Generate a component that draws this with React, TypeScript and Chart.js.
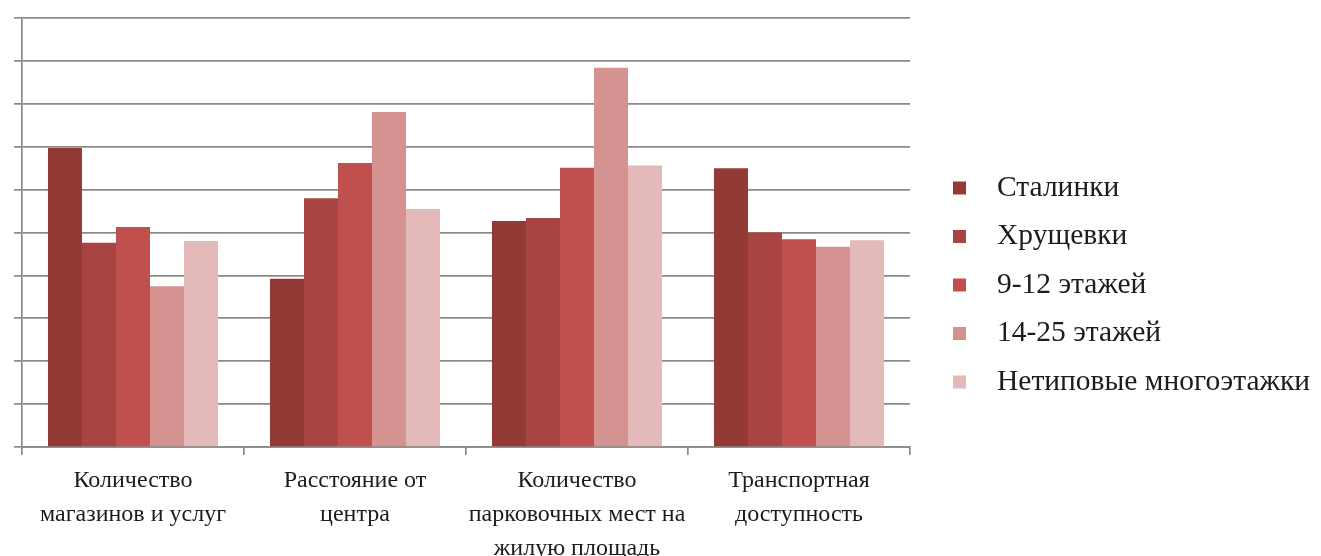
import { useEffect, useRef } from "react";
import { Chart, registerables } from "chart.js";

Chart.register(...registerables);

const categories: string[][] = [
  ["Количество", "магазинов и услуг"],
  ["Расстояние от", "центра"],
  ["Количество", "парковочных мест на", "жилую площадь"],
  ["Транспортная", "доступность"],
];

const seriesNames = ["Сталинки", "Хрущевки", "9-12 этажей", "14-25 этажей", "Нетиповые многоэтажки"];

const stalinki = [6.97, 3.92, 5.27, 6.5];
const khrushchevki = [4.76, 5.8, 5.34, 5.0];
const floors9to12 = [5.13, 6.62, 6.51, 4.84];
const floors14to25 = [3.75, 7.81, 8.84, 4.67];
const nonStandard = [4.8, 5.55, 6.56, 4.82];

const seriesColors = ["#933a37", "#a84543", "#c0504d", "#d49391", "#e3b9b9"];

const yMin = 0;
const yMax = 10;
const yStep = 1;

const FONT = '"Liberation Serif", "Times New Roman", serif';
const TEXT = "#1c1c1c";
const GRID = "#8a8a8a";

const sideLegend = {
  id: "sideLegend",
  afterDraw(chart: any) {
    const ctx = chart.ctx as CanvasRenderingContext2D;
    const area = chart.chartArea;
    const step = 48.5;
    const n = chart.data.datasets.length;
    const startY = chart.height / 2 + 7 - ((n - 1) * step) / 2;
    const boxX = area.right + 43;
    const textX = area.right + 87;
    ctx.save();
    chart.data.datasets.forEach((ds: any, i: number) => {
      const cy = startY + i * step;
      ctx.fillStyle = ds.backgroundColor;
      ctx.fillRect(boxX, cy - 6.5, 13, 13);
      ctx.fillStyle = TEXT;
      ctx.font = `29.5px ${FONT}`;
      ctx.textBaseline = "middle";
      ctx.textAlign = "left";
      ctx.fillText(ds.label, textX, cy);
    });
    ctx.restore();
  },
};

export default function App() {
  const ref = useRef<HTMLCanvasElement | null>(null);

  useEffect(() => {
    if (!ref.current) return;
    const values = [stalinki, khrushchevki, floors9to12, floors14to25, nonStandard];
    const chart = new Chart(ref.current, {
      type: "bar",
      data: {
        labels: categories,
        datasets: seriesNames.map((name, i) => ({
          label: name,
          data: values[i],
          backgroundColor: seriesColors[i],
          borderWidth: 0,
          categoryPercentage: 0.766,
          barPercentage: 1.0,
        })),
      },
      options: {
        responsive: false,
        animation: false,
        layout: { padding: { top: 18, right: 411, left: 0, bottom: 0 } },
        plugins: {
          legend: { display: false },
          tooltip: { enabled: false },
        },
        scales: {
          x: {
            offset: true,
            grid: {
              display: true,
              drawOnChartArea: false,
              drawTicks: true,
              tickLength: 8,
              color: GRID,
              lineWidth: 1.7,
              offset: true,
            },
            border: { display: true, color: GRID, width: 1.7 },
            ticks: {
              color: TEXT,
              font: { family: FONT, size: 24, lineHeight: "34px" } as any,
              padding: 9,
              maxRotation: 0,
              minRotation: 0,
              autoSkip: false,
            },
            afterFit: (scale: any) => {
              scale.height = 109;
            },
          },
          y: {
            min: yMin,
            max: yMax,
            grid: {
              color: GRID,
              lineWidth: 1.7,
              drawTicks: true,
              tickLength: 8,
            },
            border: { display: true, color: GRID, width: 1.7 },
            ticks: { display: false, stepSize: yStep },
            afterFit: (scale: any) => {
              scale.width = 22;
            },
          },
        },
      },
      plugins: [sideLegend],
    });
    return () => chart.destroy();
  }, []);

  return (
    <div style={{ position: "absolute", left: 0, top: 0, width: 1321, height: 556, overflow: "hidden", background: "#fff" }}>
      <canvas ref={ref} width={1321} height={556} style={{ display: "block", width: 1321, height: 556 }} />
    </div>
  );
}
